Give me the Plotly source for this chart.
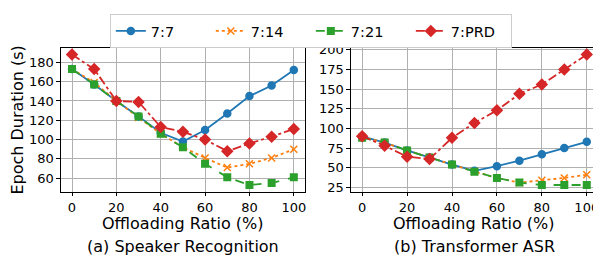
import plotly.graph_objects as go

ratios = [0, 10, 20, 30, 40, 50, 60, 70, 80, 90, 100]
series_names = ["7:7", "7:14", "7:21", "7:PRD"]

# (a) Speaker Recognition
spk_77 = [173, 157, 140, 124, 107, 98, 110, 127, 145, 156, 172]
spk_714 = [173, 159, 140, 123, 106, 92, 81, 71, 75, 81, 90]
spk_721 = [173, 157, 140, 124, 106, 92, 75, 61, 53, 55, 61]
spk_prd = [188, 173, 140, 139, 113, 108, 100, 88, 96, 103, 111]

# (b) Transformer ASR
asr_77 = [90, 82, 72, 63, 54, 46, 52, 59, 67, 75, 83]
asr_714 = [89, 82, 72, 63, 54, 45, 37, 31, 34, 37, 41]
asr_721 = [88, 82, 72, 63, 54, 45, 37, 31, 28, 28, 28]
asr_prd = [90, 78, 64, 61, 88, 107, 123, 144, 156, 175, 194]

x_ticks = [0, 20, 40, 60, 80, 100]
spk_yticks = [60, 80, 100, 120, 140, 160, 180]
asr_yticks = [25, 50, 75, 100, 125, 150, 175, 200]

colors = ["#1f77b4", "#ff7f0e", "#2ca02c", "#d62728"]
dashes = ["solid", "dot", "dash", "dashdot"]
symbols = ["circle", "x-thin-open", "square", "diamond"]
msizes = [7, 7, 6.5, 8]

FONT = "DejaVu Sans"
# the page has an 8px body margin; positions below are in window pixels
OFF = 8
W, H = 601 - OFF, 263 - OFF


def px(x):
    return (x - OFF) / W


def py(y):
    return 1 - (y - OFF) / H


fig = go.Figure()
panels = [([spk_77, spk_714, spk_721, spk_prd], "x", "y"),
          ([asr_77, asr_714, asr_721, asr_prd], "x2", "y2")]
for pi, (data, xa, ya) in enumerate(panels):
    for i, vals in enumerate(data):
        fig.add_trace(go.Scatter(
            x=ratios, y=vals, xaxis=xa, yaxis=ya, name=series_names[i],
            mode="lines+markers", showlegend=(pi == 0),
            line=dict(color=colors[i], width=1.8, dash=dashes[i]),
            marker=dict(symbol=symbols[i], size=msizes[i], color=colors[i],
                        line=dict(color=colors[i], width=1.5)),
        ))

axis_common = dict(
    showline=True, linecolor="black", linewidth=1, mirror=True,
    showgrid=True, gridcolor="#b0b0b0", gridwidth=0.8,
    ticks="outside", ticklen=3.5, tickwidth=1, tickcolor="black",
    tickfont=dict(family=FONT, size=13, color="black"), zeroline=False,
)
ydom = [py(192), py(43.3)]
lab = dict(family=FONT, size=16, color="black")
fig.update_layout(
    width=W, height=H, margin=dict(l=0, r=0, t=0, b=0),
    plot_bgcolor="white", paper_bgcolor="white",
    font=dict(family=FONT, color="black"),
    xaxis=dict(domain=[px(61), px(305.4)], range=[-5, 105], tickvals=x_ticks, **axis_common),
    yaxis=dict(domain=ydom, range=[46.25, 194.75], tickvals=spk_yticks, **axis_common),
    xaxis2=dict(domain=[px(351.5), px(599)], range=[-5, 105], tickvals=x_ticks, anchor="y2", **axis_common),
    yaxis2=dict(domain=ydom, range=[19.7, 202.3], tickvals=asr_yticks, anchor="x2", **axis_common),
    legend=dict(orientation="h", x=px(110), xanchor="left", y=1.0, yanchor="top",
                bordercolor="#cccccc", borderwidth=1, font=dict(family=FONT, size=14.5),
                itemwidth=30, entrywidth=55, tracegroupgap=0),
    annotations=[
        dict(text="Epoch Duration (s)", x=px(18), y=py(117.5), xref="paper", yref="paper",
             xanchor="center", yanchor="middle",
             textangle=-90, showarrow=False, font=lab),
        dict(text="Offloading Ratio (%)", x=px(183), y=py(225), xref="paper", yref="paper",
             xanchor="center", yanchor="middle", showarrow=False, font=lab),
        dict(text="Offloading Ratio (%)", x=px(475), y=py(225), xref="paper", yref="paper",
             xanchor="center", yanchor="middle", showarrow=False, font=lab),
        dict(text="(a) Speaker Recognition", x=px(183), y=py(249), xref="paper", yref="paper",
             xanchor="center", yanchor="middle", showarrow=False, font=lab),
        dict(text="(b) Transformer ASR", x=px(475), y=py(249), xref="paper", yref="paper",
             xanchor="center", yanchor="middle", showarrow=False, font=lab),
    ],
)
fig.write_html("out.html")
